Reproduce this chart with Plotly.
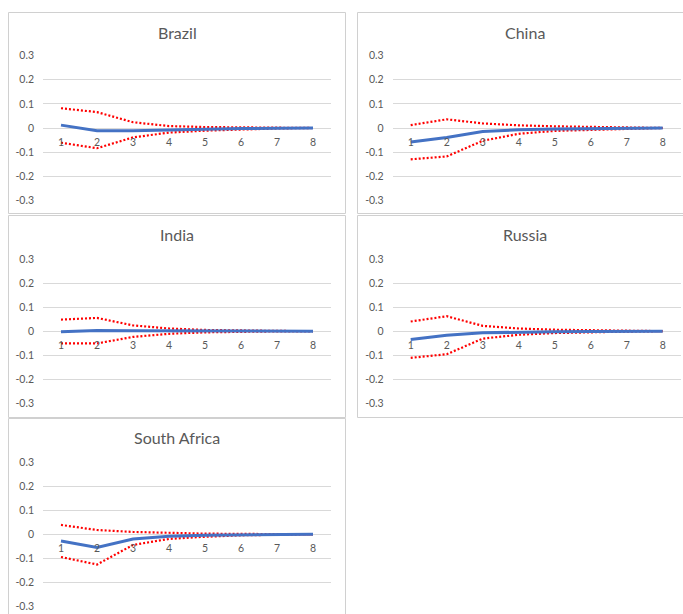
import plotly.graph_objects as go

# Impulse responses (horizons 1..8) with lower / upper confidence bands
horizons = [1, 2, 3, 4, 5, 6, 7, 8]
countries = ["Brazil", "China", "India", "Russia", "South Africa"]

brazil_irf = [0.012, -0.011, -0.011, -0.007, -0.004, -0.002, -0.001, 0.0]
brazil_upper = [0.082, 0.066, 0.024, 0.008, 0.004, 0.002, 0.001, 0.0]
brazil_lower = [-0.061, -0.084, -0.039, -0.019, -0.011, -0.005, -0.002, 0.0]

china_irf = [-0.058, -0.039, -0.015, -0.007, -0.004, -0.002, -0.001, 0.0]
china_upper = [0.012, 0.036, 0.019, 0.011, 0.007, 0.004, 0.002, 0.0]
china_lower = [-0.130, -0.118, -0.053, -0.024, -0.012, -0.007, -0.003, 0.0]

india_irf = [-0.003, 0.003, 0.002, 0.001, 0.0, 0.0, 0.0, 0.0]
india_upper = [0.048, 0.055, 0.024, 0.011, 0.005, 0.002, 0.001, 0.0]
india_lower = [-0.051, -0.051, -0.024, -0.011, -0.005, -0.002, -0.001, 0.0]

russia_irf = [-0.035, -0.017, -0.007, -0.003, -0.002, -0.001, 0.0, 0.0]
russia_upper = [0.040, 0.062, 0.022, 0.011, 0.006, 0.003, 0.001, 0.0]
russia_lower = [-0.111, -0.096, -0.031, -0.015, -0.008, -0.004, -0.002, 0.0]

safrica_irf = [-0.028, -0.054, -0.019, -0.008, -0.004, -0.002, -0.001, 0.0]
safrica_upper = [0.039, 0.018, 0.010, 0.005, 0.003, 0.002, 0.001, 0.0]
safrica_lower = [-0.094, -0.125, -0.044, -0.019, -0.010, -0.004, -0.002, 0.0]

y_tickvals = [0.3, 0.2, 0.1, 0.0, -0.1, -0.2, -0.3]
y_ticktext = ["0.3", "0.2", "0.1", "0", "-0.1", "-0.2", "-0.3"]
x_ticktext = ["1", "2", "3", "4", "5", "6", "7", "8"]

series = {
    "Brazil": (brazil_irf, brazil_upper, brazil_lower),
    "China": (china_irf, china_upper, china_lower),
    "India": (india_irf, india_upper, india_lower),
    "Russia": (russia_irf, russia_upper, russia_lower),
    "South Africa": (safrica_irf, safrica_upper, safrica_lower),
}

W, H = 683, 614
FONT = "Lato"
TEXT = "#595959"
GRID = "#D9D9D9"


def fx(px):
    return px / W


def fy(py):
    return 1 - py / H


# Pixel geometry of each chart: plot area (x0, x1, ytop, ybottom),
# title centre and the outer chart frame.
panels = {
    "Brazil": dict(plot=(43, 331, 55.7, 200.3), title=(177, 32),
                   frame=(8.5, 345.5, 12.5, 213.5)),
    "China": dict(plot=(392.7, 680.7, 55.7, 200.3), title=(525, 32),
                  frame=(357.5, 700, 12.5, 213.5)),
    "India": dict(plot=(43, 331, 259, 403.3), title=(177, 235),
                  frame=(8.5, 345.5, 215.5, 417.5)),
    "Russia": dict(plot=(392.7, 680.7, 259, 403.3), title=(525, 235),
                   frame=(357.5, 700, 215.5, 417.5)),
    "South Africa": dict(plot=(43, 331, 462, 606.7), title=(177, 437.5),
                         frame=(8.5, 345.5, 418.5, 640)),
}

fig = go.Figure()
layout = dict(
    width=W, height=H,
    margin=dict(l=0, r=0, t=0, b=0, autoexpand=False),
    paper_bgcolor="white", plot_bgcolor="white",
    showlegend=False,
    font=dict(family=FONT, color=TEXT),
    annotations=[], shapes=[],
)

for i, name in enumerate(countries, start=1):
    irf, upper, lower = series[name]
    p = panels[name]
    x0, x1, yt, yb = p["plot"]
    xa = "x" if i == 1 else f"x{i}"
    ya = "y" if i == 1 else f"y{i}"
    ydom = [fy(yb), fy(yt)]

    for vals in (upper, lower):
        fig.add_trace(go.Scatter(
            x=horizons, y=vals, mode="lines", xaxis=xa, yaxis=ya,
            line=dict(color="#FF0000", width=2.2, dash="2px,2px"),
            hoverinfo="skip"))
    fig.add_trace(go.Scatter(
        x=horizons, y=irf, mode="lines", xaxis=xa, yaxis=ya,
        line=dict(color="#4472C4", width=3), hoverinfo="skip"))

    # category axis crossing the value axis at zero
    layout["xaxis" if i == 1 else f"xaxis{i}"] = dict(
        domain=[fx(x0), fx(x1)], range=[0.5, 8.5],
        anchor="free", position=(ydom[0] + ydom[1]) / 2,
        tickvals=horizons, ticktext=x_ticktext,
        showgrid=False, zeroline=False, showline=False, ticks="",
        ticklabelstandoff=6, automargin=False,
        tickfont=dict(family=FONT, size=10.5, color=TEXT),
        fixedrange=True,
    )
    layout["yaxis" if i == 1 else f"yaxis{i}"] = dict(
        domain=ydom, range=[-0.3, 0.3], anchor=xa,
        tickvals=y_tickvals, ticktext=y_ticktext,
        showgrid=True, gridcolor=GRID, gridwidth=1,
        zeroline=False, showline=False, ticks="",
        ticklabelstandoff=8, automargin=False,
        tickfont=dict(family=FONT, size=10.5, color=TEXT),
        fixedrange=True,
    )

    tx, ty = p["title"]
    layout["annotations"].append(dict(
        text=name, x=fx(tx), y=fy(ty), xref="paper", yref="paper",
        xanchor="center", yanchor="middle", showarrow=False,
        font=dict(family=FONT, size=16, color=TEXT)))

    fx0, fx1, fy0, fy1 = p["frame"]
    layout["shapes"].append(dict(
        type="rect", xref="paper", yref="paper",
        x0=fx(fx0), x1=fx(fx1), y0=fy(fy1), y1=fy(fy0),
        line=dict(color="#D0D0D0", width=1), layer="below"))

fig.update_layout(**layout)
fig.write_html("out.html")
